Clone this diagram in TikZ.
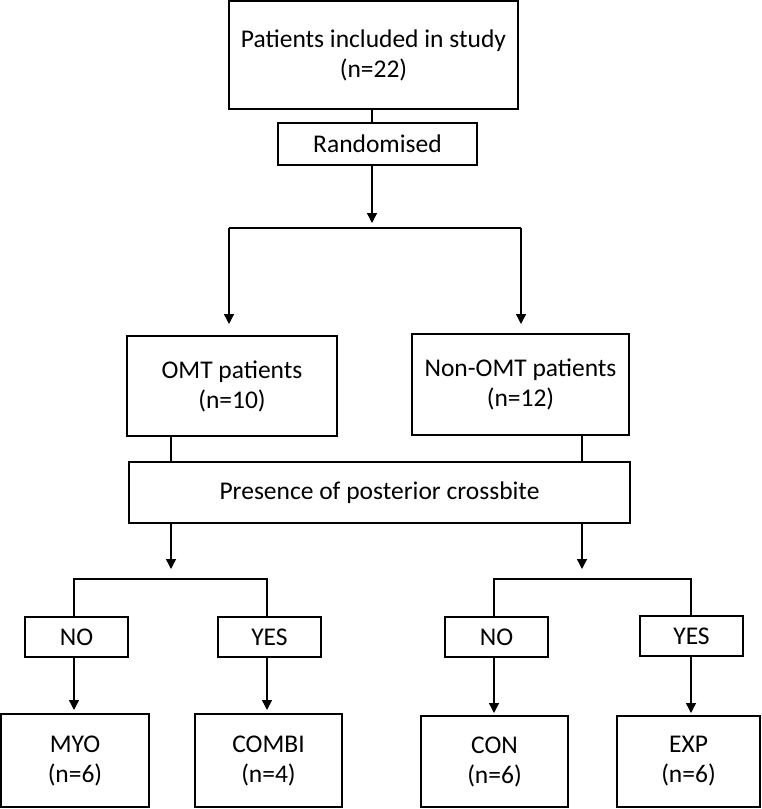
\documentclass[tikz,border=0pt]{standalone}
\usepackage{fontspec}
\setmainfont{Carlito}
\usetikzlibrary{arrows.meta}
\begin{document}
\begin{tikzpicture}[x=1pt,y=-1pt,
  box/.style={draw,line width=1.4pt,inner sep=0pt,align=center,
    font=\fontsize{25.5}{30}\selectfont},
  conn/.style={line width=1.4pt},
  arr/.style={line width=1.4pt,-{Triangle[length=10pt,width=10pt]}}]
\useasboundingbox (0,0) rectangle (761,809);
\node[box,minimum width=289pt,minimum height=108pt] (top) at (373.5,55) {Patients included in study\\(n=22)};
\node[box,minimum width=199pt,minimum height=42pt] (rand) at (377.5,144) {Randomised};
\node[box,minimum width=210pt,minimum height=100pt] (omt) at (232,386) {OMT patients\\(n=10)};
\node[box,minimum width=217pt,minimum height=101pt] (non) at (520.5,384.5) {Non-OMT patients\\(n=12)};
\node[box,minimum width=501pt,minimum height=61pt] (cross) at (379.5,492.5) {Presence of posterior crossbite};
\node[box,minimum width=103pt,minimum height=40pt] (no1) at (76.5,637) {NO};
\node[box,minimum width=103pt,minimum height=40pt] (yes1) at (269.5,637) {YES};
\node[box,minimum width=103pt,minimum height=40pt] (no2) at (496.5,637) {NO};
\node[box,minimum width=103pt,minimum height=40pt] (yes2) at (691.5,636) {YES};
\node[box,minimum width=148pt,minimum height=93pt] (myo) at (75,760.5) {MYO\\(n=6)};
\node[box,minimum width=147pt,minimum height=93pt] (combi) at (268.5,760.5) {COMBI\\(n=4)};
\node[box,minimum width=147pt,minimum height=91pt] (con) at (494.5,761.5) {CON\\(n=6)};
\node[box,minimum width=143pt,minimum height=91pt] (exp) at (688.5,761.5) {EXP\\(n=6)};
% top to randomised
\draw[conn] (372,0 |- top.south) -- (372,0 |- rand.north);
\coordinate (a1) at (372,223);
\draw[arr] (372,0 |- rand.south) -- (a1);
\coordinate (s1L) at (229,228);
\coordinate (s1R) at (521,228);
\coordinate (t1L) at (229,324);
\coordinate (t1R) at (521,324);
\draw[conn] (s1L) -- (s1R);
\draw[arr] (s1L) -- (t1L);
\draw[arr] (s1R) -- (t1R);
% groups to crossbite
\draw[conn] (171,0 |- omt.south) -- (171,0 |- cross.north);
\draw[conn] (582,0 |- non.south) -- (582,0 |- cross.north);
% left branch
\coordinate (a2) at (171,569);
\draw[arr] (171,0 |- cross.south) -- (a2);
\coordinate (s2L) at (74,579);
\coordinate (s2R) at (267,579);
\draw[conn] (s2L |- no1.north) -- (s2L) -- (s2R) -- (s2R |- yes1.north);
\coordinate (t2L) at (74,710);
\coordinate (t2R) at (267,710);
\draw[arr] (74,0 |- no1.south) -- (t2L);
\draw[arr] (267,0 |- yes1.south) -- (t2R);
% right branch
\coordinate (a3) at (582,569);
\draw[arr] (582,0 |- cross.south) -- (a3);
\coordinate (s3L) at (494,579);
\coordinate (s3R) at (691,579);
\draw[conn] (s3L |- no2.north) -- (s3L) -- (s3R) -- (s3R |- yes2.north);
\coordinate (t3L) at (494,713);
\coordinate (t3R) at (691,713);
\draw[arr] (494,0 |- no2.south) -- (t3L);
\draw[arr] (691,0 |- yes2.south) -- (t3R);
\end{tikzpicture}
\end{document}
